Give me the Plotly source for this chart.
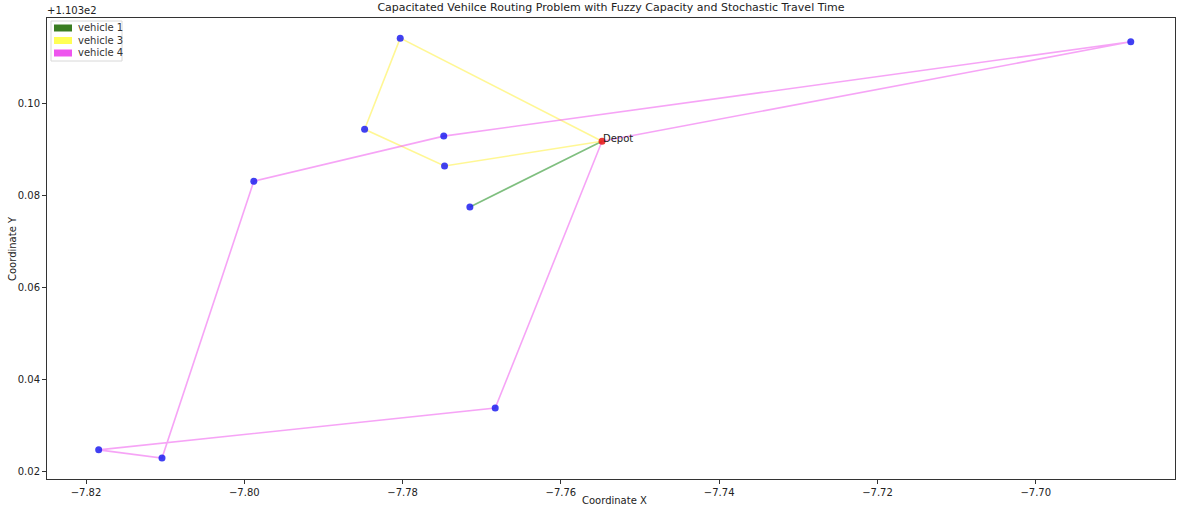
import plotly.graph_objects as go

Y_OFFSET = 110.3

depot = (-7.7548, 110.3917)

v1_x = [-7.7548, -7.7715, -7.7548]
v1_y = [110.3917, 110.3774, 110.3917]

v3_x = [-7.7548, -7.7803, -7.7848, -7.7747, -7.7548]
v3_y = [110.3917, 110.4141, 110.3943, 110.3863, 110.3917]

v4_x = [-7.7548, -7.6880, -7.7748, -7.7988, -7.8104, -7.8184, -7.7683, -7.7548]
v4_y = [110.3917, 110.4133, 110.3928, 110.3830, 110.3228, 110.3246, 110.3337, 110.3917]

vehicle_names = ["vehicle 1", "vehicle 3", "vehicle 4"]
line_colors = ["rgba(0,128,0,0.5)", "rgba(255,240,60,0.55)", "rgba(238,90,238,0.55)"]
patch_colors = ["#3a7d22", "#ffff55", "#ee55ee"]

x_ticks = [-7.82, -7.80, -7.78, -7.76, -7.74, -7.72, -7.70]
y_ticks = [0.02, 0.04, 0.06, 0.08, 0.10]

font = "DejaVu Sans, Liberation Sans, sans-serif"
fig = go.Figure()

routes = [(v1_x, v1_y), (v3_x, v3_y), (v4_x, v4_y)]
for (rx, ry), c, name in zip(routes, line_colors, vehicle_names):
    fig.add_trace(go.Scatter(x=rx, y=ry, mode="lines", line=dict(color=c, width=1.6),
                             name=name, showlegend=False, hoverinfo="skip"))

# customer points
for rx, ry in routes:
    fig.add_trace(go.Scatter(x=rx[1:-1], y=ry[1:-1], mode="markers",
                             marker=dict(color="rgba(30,30,240,0.85)", size=7),
                             showlegend=False))

fig.add_trace(go.Scatter(x=[depot[0]], y=[depot[1]], mode="markers",
                         marker=dict(color="rgba(230,20,20,0.85)", size=7),
                         showlegend=False))
fig.add_annotation(x=depot[0], y=depot[1], text="Depot", showarrow=False,
                   xanchor="left", yanchor="bottom", xshift=-1, yshift=-5,
                   font=dict(family=font, size=10, color="#222"))

PW, PH = 1128, 461
# legend (matplotlib-style patches)
shapes = [dict(type="rect", xref="paper", yref="paper", x0=4 / PW, x1=75 / PW,
               y0=1 - 43 / PH, y1=1 - 3 / PH,
               line=dict(color="#d8d8d8", width=1), fillcolor="rgba(255,255,255,0.85)")]
for i, (name, pc) in enumerate(zip(vehicle_names, patch_colors)):
    cy = 10 + i * 12.5
    shapes.append(dict(type="rect", xref="paper", yref="paper",
                       x0=7 / PW, x1=25 / PW,
                       y0=1 - (cy + 3.5) / PH, y1=1 - (cy - 3.5) / PH,
                       line=dict(width=0), fillcolor=pc))
    fig.add_annotation(xref="paper", yref="paper", x=29 / PW, y=1 - cy / PH,
                       text=name, showarrow=False, xanchor="left", yanchor="middle",
                       font=dict(family=font, size=10, color="#333"))

fig.add_annotation(xref="paper", yref="paper", x=-2 / PW, y=1, yshift=0, text="+1.103e2",
                   showarrow=False, xanchor="left", yanchor="bottom",
                   font=dict(family=font, size=10, color="#222"))
fig.add_annotation(xref="paper", yref="paper", x=(614 - 47) / PW, y=-29 / PH,
                   text="Coordinate X", showarrow=False, xanchor="center", yanchor="bottom",
                   font=dict(family=font, size=10, color="#222"))
fig.add_annotation(xref="paper", yref="paper", x=-27 / PW, y=0.5,
                   text="Coordinate Y", showarrow=False, xanchor="right", yanchor="middle",
                   textangle=-90, font=dict(family=font, size=10, color="#222"))

fig.update_layout(
    width=1178, height=508,
    margin=dict(l=47, r=3, t=18, b=29),
    paper_bgcolor="white", plot_bgcolor="white",
    shapes=shapes,
    title=dict(text="Capacitated Vehilce Routing Problem with Fuzzy Capacity and Stochastic Travel Time",
               x=0.5, xref="paper", xanchor="center", y=1 - 3 / 508, yanchor="top",
               font=dict(family=font, size=11, color="#222")),
    font=dict(family=font, size=10, color="#222"),
)
fig.update_xaxes(range=[-7.82493, -7.68241], tickvals=x_ticks,
                 ticktext=["\u2212%.2f" % abs(t) for t in x_ticks], automargin=False,
                 showgrid=False, zeroline=False, showline=True, linecolor="#333", linewidth=1,
                 mirror=True, ticks="outside", ticklen=4, tickcolor="#333")
fig.update_yaxes(range=[Y_OFFSET + 0.01826, Y_OFFSET + 0.11848],
                 tickvals=[Y_OFFSET + t for t in y_ticks],
                 ticktext=["%.2f" % t for t in y_ticks], automargin=False,
                 showgrid=False, zeroline=False, showline=True, linecolor="#333", linewidth=1,
                 mirror=True, ticks="outside", ticklen=4, tickcolor="#333")

fig.write_html("out.html", config={"displayModeBar": False},
               post_script="document.body.style.margin='0';document.body.style.overflow='hidden';")
